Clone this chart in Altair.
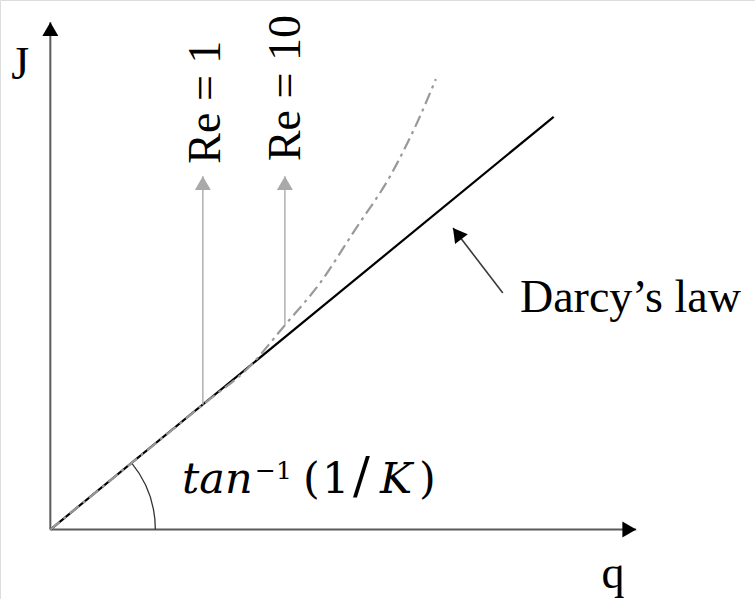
import math
import altair as alt
import pandas as pd

# ---- values -------------------------------------------------------------
# Darcy's law: straight line J = q / K
darcy_q = [0.0, 10.0]
darcy_J = [0.0, 8.2]

# Non-Darcy (inertial) flow curve, leaving the Darcy line at higher q
curve_q = [0.0, 3.03, 3.97, 4.66, 5.36, 6.05, 6.75, 7.34, 7.66]
curve_J = [0.0, 2.48, 3.25, 4.06, 4.90, 5.95, 7.02, 8.20, 8.95]

# Reynolds-number markers: start on the curve, arrow tip, label centre
re_labels = ["Re = 1", "Re = 10"]
re_q = [3.03, 4.66]
re_J0 = [2.48, 4.06]
re_J1 = [7.02, 7.02]
re_label_q = [3.10, 4.68]
re_label_J = [8.49, 8.77]

# axis arrows
q_axis_end = 11.64
J_axis_end = 10.08

# Darcy's law pointer (tail -> tip)
pointer_tail = (8.99, 4.70)
pointer_tip = (8.00, 5.99)

# ---- scales ---------------------------------------------------------------
W, H = 755, 599
q_dom = [-1.0, 14.0]
J_dom = [-1.38, 10.52]
PX_Q = W / (q_dom[1] - q_dom[0])   # pixels per q unit
PX_J = H / (J_dom[1] - J_dom[0])   # pixels per J unit
xs = alt.Scale(domain=q_dom, nice=False, zero=False)
ys = alt.Scale(domain=J_dom, nice=False, zero=False)

HEAD = 256                      # arrowhead symbol area
HEAD_H = math.sqrt(3) * math.sqrt(HEAD) / 4   # half height of the triangle


def head(tail, tip):
    """Centre and rotation of a triangle-up symbol whose point sits at tip."""
    dx = (tip[0] - tail[0]) * PX_Q
    dy = -(tip[1] - tail[1]) * PX_J
    n = math.hypot(dx, dy)
    ux, uy = dx / n, dy / n
    cq = tip[0] - ux * HEAD_H / PX_Q
    cJ = tip[1] + uy * HEAD_H / PX_J
    ang = math.degrees(math.atan2(ux, -uy)) % 360
    return cq, cJ, ang


def X(f):
    return alt.X(f, type="quantitative", scale=xs, axis=None)


def Y(f):
    return alt.Y(f, type="quantitative", scale=ys, axis=None)


SERIF = "Liberation Serif"

# ---- axes ----------------------------------------------------------------
axes_df = pd.DataFrame({
    "q0": [0.0, 0.0], "J0": [0.0, 0.0],
    "q1": [q_axis_end, 0.0], "J1": [0.0, J_axis_end],
})
axes = alt.Chart(axes_df).mark_rule(color="#5a5a5a", strokeWidth=2).encode(
    x=X("q0"), y=Y("J0"), x2="q1", y2="J1")

heads = [head((0, 0), (q_axis_end, 0)), head((0, 0), (0, J_axis_end))]
axis_heads = alt.Chart(pd.DataFrame(heads, columns=["q", "J", "ang"])).mark_point(
    shape="triangle-up", filled=True, size=HEAD, color="black", opacity=1
).encode(x=X("q"), y=Y("J"), angle=alt.Angle("ang:Q", scale=None))

# ---- Darcy line and non-Darcy curve ------------------------------------
darcy = alt.Chart(pd.DataFrame({"q": darcy_q, "J": darcy_J})).mark_line(
    color="black", strokeWidth=2.2).encode(x=X("q"), y=Y("J"))

curve = alt.Chart(pd.DataFrame({"q": curve_q, "J": curve_J,
                                "i": range(len(curve_q))})).mark_line(
    color="#999999", strokeWidth=2.2, strokeDash=[12, 5, 3, 5],
    interpolate="monotone").encode(x=X("q"), y=Y("J"), order="i:Q")

# ---- Reynolds-number arrows and labels ---------------------------------
re_df = pd.DataFrame({"q": re_q, "J0": re_J0, "J1": re_J1})
re_shafts = alt.Chart(re_df).mark_rule(color="#b4b4b4", strokeWidth=1.6).encode(
    x=X("q"), y=Y("J0"), y2="J1")
re_heads_df = pd.DataFrame([head((q, a), (q, b)) for q, a, b in zip(re_q, re_J0, re_J1)],
                           columns=["q", "J", "ang"])
re_heads = alt.Chart(re_heads_df).mark_point(
    shape="triangle-up", filled=True, size=HEAD, color="#a9a9a9", opacity=1
).encode(x=X("q"), y=Y("J"), angle=alt.Angle("ang:Q", scale=None))

re_text = alt.Chart(pd.DataFrame({"q": re_label_q, "J": re_label_J, "t": re_labels})).mark_text(
    angle=270, font=SERIF, fontSize=46, align="center", baseline="middle", color="black"
).encode(x=X("q"), y=Y("J"), text="t:N")

# ---- Darcy's law pointer ------------------------------------------------
ptr = alt.Chart(pd.DataFrame({"q0": [pointer_tail[0]], "J0": [pointer_tail[1]],
                              "q1": [pointer_tip[0]], "J1": [pointer_tip[1]]})).mark_rule(
    color="#3a3a3a", strokeWidth=1.6).encode(x=X("q0"), y=Y("J0"), x2="q1", y2="J1")
ptr_head = alt.Chart(pd.DataFrame([head(pointer_tail, pointer_tip)],
                                  columns=["q", "J", "ang"])).mark_point(
    shape="triangle-up", filled=True, size=HEAD, color="black", opacity=1
).encode(x=X("q"), y=Y("J"), angle=alt.Angle("ang:Q", scale=None))

# ---- plain labels -------------------------------------------------------
labels_df = pd.DataFrame({
    "q": [-0.60, 11.18, 9.33],
    "J": [8.96, -1.16, 4.32],
    "t": ["J", "q", "Darcy’s law"],
    "a": ["center", "center", "left"],
})
label_layers = []
for _, r in labels_df.iterrows():
    label_layers.append(
        alt.Chart(pd.DataFrame([r])).mark_text(
            font=SERIF, fontSize=46, baseline="alphabetic", align=r["a"], color="black"
        ).encode(x=X("q"), y=Y("J"), text="t:N"))

# ---- slope angle: arc and tan^-1(1/K) -----------------------------------
slope = math.atan2(darcy_J[1] * PX_J, darcy_q[1] * PX_Q)
arc = alt.Chart(pd.DataFrame({"q": [0.0], "J": [0.0]})).mark_arc(
    radius=105, radius2=105, theta=math.pi / 2 - slope, theta2=math.pi / 2,
    filled=False, stroke="#333333", strokeWidth=1.3
).encode(x=X("q"), y=Y("J"))

eq_q, eq_J = 2.636, 0.726
eq_parts = [
    # text, dx, dy, size, style
    ("tan", -1, 0, 43, "italic"),
    ("−1", 72, -14, 25, "normal"),
    ("(", 120, 0, 43, "normal"),
    ("1", 139, 0, 43, "normal"),
    ("/", 170, 0, 50, "normal"),
    ("K", 197, 0, 43, "italic"),
    (")", 236, 0, 43, "normal"),
]
eq_layers = []
for t, dx, dy, size, style in eq_parts:
    eq_layers.append(
        alt.Chart(pd.DataFrame({"q": [eq_q], "J": [eq_J], "t": [t]})).mark_text(
            font="DejaVu Serif", fontSize=size, fontStyle=style, dx=dx, dy=dy,
            align="left", baseline="alphabetic", color="black"
        ).encode(x=X("q"), y=Y("J"), text="t:N"))

chart = alt.layer(
    axes, axis_heads, arc, darcy, curve, re_shafts, re_heads, re_text,
    ptr, ptr_head, *label_layers, *eq_layers
).properties(
    width=W, height=H, padding=0, autosize=alt.AutoSizeParams(type="none")
).configure_view(stroke=None).configure(background="white")

chart.save("out.html", embed_options={"renderer": "svg", "actions": False})
